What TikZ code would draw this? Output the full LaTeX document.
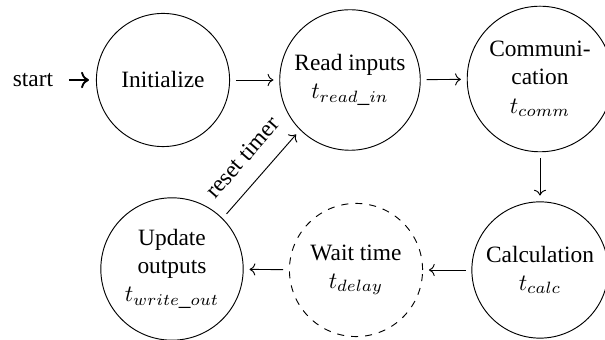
\documentclass[tikz,border=0pt]{standalone}
\usepackage{fontspec}
\setmainfont{Liberation Serif}
\usetikzlibrary{arrows.meta}
\begin{document}
\begin{tikzpicture}[x=0.4274pt,y=-0.4274pt,
  stateS/.style={circle,draw,thin,minimum size=2cm,align=center,inner sep=3pt},
  waitS/.style={stateS,dashed},
  conn/.style={->,thin,shorten <=2.5pt,shorten >=2.5pt},
  initconn/.style={->,thick,shorten <=3.2pt,shorten >=3pt}]
\useasboundingbox (0,0) rectangle (605,340);
\node[stateS] (init) at (163,80) {Initialize};
\node[stateS] (read) at (350,80) {Read inputs\\$t_{read\_in}$};
\node[stateS] (comm) at (540,79) {Communi-\\cation\\$t_{comm}$};
\node[stateS] (calc) at (540,270) {Calculation\\$t_{calc}$};
\node[waitS] (wait) at (356,270) {Wait time\\$t_{delay}$};
\node[stateS] (upd) at (172,269) {Update\\outputs\\$t_{write\_out}$};
\node (start) at (33,80) {start};
\draw[initconn] (start) -- (init);
\draw[conn] (init) -- (read);
\draw[conn] (read) -- (comm);
\draw[conn] (comm) -- (calc);
\draw[conn] (calc) -- (wait);
\draw[conn] (wait) -- (upd);
\draw[conn] (upd.north east) -- node[midway,above=4pt,sloped] {reset timer} (read.south west);
\end{tikzpicture}
\end{document}
